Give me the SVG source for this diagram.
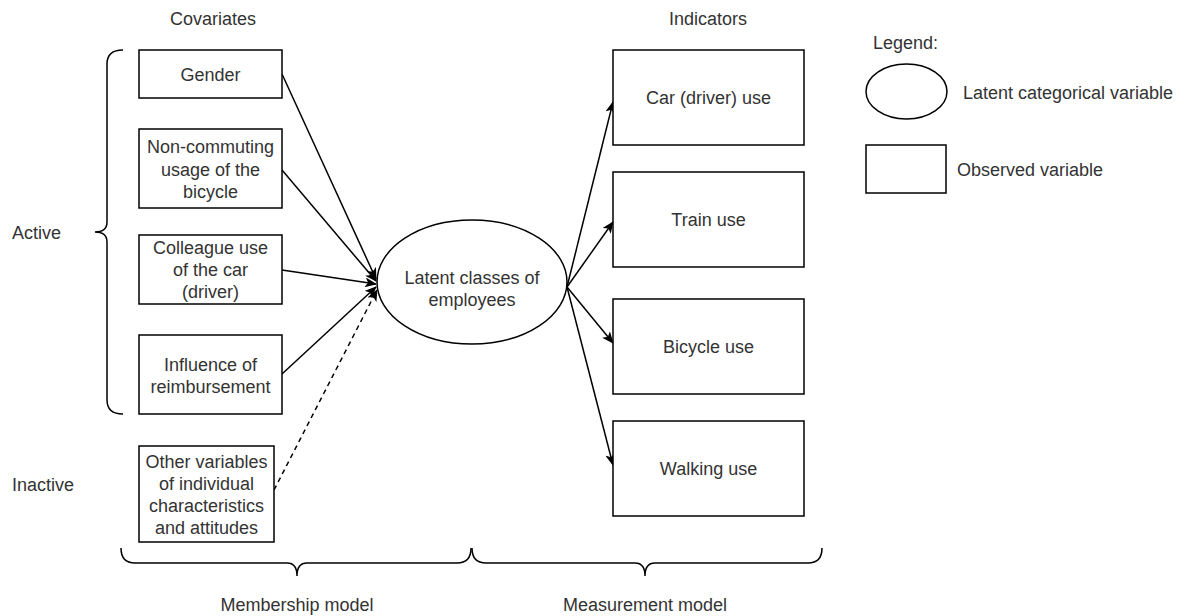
<svg xmlns="http://www.w3.org/2000/svg" width="1189" height="616" viewBox="0 0 1189 616">
<defs>
<style>
.box{fill:#fff;stroke:#000;stroke-width:1.5}
.t{font-family:"Liberation Sans",Arial,sans-serif;font-size:18px;fill:#333}
.m{text-anchor:middle}
.ln{fill:none;stroke:#000;stroke-width:1.5}
.br{fill:none;stroke:#000;stroke-width:1.5}
</style>
<marker id="ah" viewBox="0 0 10 10" refX="9" refY="5" markerWidth="7" markerHeight="7" markerUnits="userSpaceOnUse" orient="auto">
<path d="M0,0 L10,5 L0,10 L3,5 Z" fill="#000"/>
</marker>
<marker id="ah2" viewBox="0 0 12 10" refX="11" refY="5" markerWidth="12" markerHeight="10" markerUnits="userSpaceOnUse" orient="auto">
<path d="M0,0 L12,5 L0,10 L3,5 Z" fill="#000"/>
</marker>
</defs>
<rect width="1189" height="616" fill="#fff"/>

<g id="labels">
<text class="t m" x="213" y="25">Covariates</text>
<text class="t m" x="708" y="25">Indicators</text>
<text class="t" x="12" y="239">Active</text>
<text class="t" x="12" y="491">Inactive</text>
<text class="t m" x="297" y="611">Membership model</text>
<text class="t m" x="645" y="611">Measurement model</text>
</g>

<g id="braces">
<path class="br" d="M123,50 Q107,50 107,64 L107,222 Q107,232 95,232 Q107,232 107,242 L107,400 Q107,414 123,414"/>
<path class="br" d="M121,548 Q121,563 135,563 L287,563 Q297,563 297,576 Q297,563 307,563 L457,563 Q471,563 471,548"/>
<path class="br" d="M472,548 Q472,563 486,563 L635,563 Q645,563 645,576 Q645,563 655,563 L808,563 Q822,563 822,548"/>
</g>

<g id="connectors">
<line class="ln" x1="282" y1="74" x2="376" y2="279" marker-end="url(#ah2)"/>
<line class="ln" x1="282" y1="170" x2="376" y2="281" marker-end="url(#ah2)"/>
<line class="ln" x1="282" y1="270" x2="376" y2="284" marker-end="url(#ah2)"/>
<line class="ln" x1="282" y1="374" x2="376" y2="287" marker-end="url(#ah2)"/>
<line class="ln" x1="274" y1="490" x2="377" y2="290" stroke-dasharray="5,4" marker-end="url(#ah2)"/>
<line class="ln" x1="567" y1="287" x2="613" y2="102" marker-end="url(#ah2)"/>
<line class="ln" x1="567" y1="287" x2="613" y2="222" marker-end="url(#ah2)"/>
<line class="ln" x1="567" y1="287" x2="613" y2="343" marker-end="url(#ah2)"/>
<line class="ln" x1="567" y1="287" x2="613" y2="465" marker-end="url(#ah2)"/>
</g>

<g id="gender">
<rect class="box" x="139" y="50" width="143" height="48"/>
<text class="t m" x="210.5" y="81">Gender</text>
</g>
<g id="noncommuting">
<rect class="box" x="139" y="129" width="143" height="79"/>
<text class="t m" x="210.5" y="153">Non-commuting</text>
<text class="t m" x="210.5" y="176">usage of the</text>
<text class="t m" x="210.5" y="198">bicycle</text>
</g>
<g id="colleague">
<rect class="box" x="139" y="235" width="143" height="69"/>
<text class="t m" x="210.5" y="254">Colleague use</text>
<text class="t m" x="210.5" y="276">of the car</text>
<text class="t m" x="210.5" y="298">(driver)</text>
</g>
<g id="influence">
<rect class="box" x="139" y="335" width="143" height="79"/>
<text class="t m" x="210.5" y="371">Influence of</text>
<text class="t m" x="210.5" y="393">reimbursement</text>
</g>
<g id="other">
<rect class="box" x="139" y="446" width="135" height="96"/>
<text class="t m" x="206.5" y="468">Other variables</text>
<text class="t m" x="206.5" y="490">of individual</text>
<text class="t m" x="206.5" y="512">characteristics</text>
<text class="t m" x="206.5" y="534">and attitudes</text>
</g>

<g id="latent">
<ellipse class="box" cx="472" cy="282" rx="95" ry="62"/>
<text class="t m" x="472" y="284">Latent classes of</text>
<text class="t m" x="472" y="306">employees</text>
</g>

<g id="car">
<rect class="box" x="613" y="50" width="191" height="95"/>
<text class="t m" x="708.5" y="104">Car (driver) use</text>
</g>
<g id="train">
<rect class="box" x="613" y="172" width="191" height="95"/>
<text class="t m" x="708.5" y="226">Train use</text>
</g>
<g id="bicycle">
<rect class="box" x="613" y="299" width="191" height="95"/>
<text class="t m" x="708.5" y="353">Bicycle use</text>
</g>
<g id="walking">
<rect class="box" x="613" y="421" width="191" height="95"/>
<text class="t m" x="708.5" y="475">Walking use</text>
</g>

<g id="legend">
<text class="t" x="873" y="49">Legend:</text>
<ellipse class="box" cx="906.5" cy="91.5" rx="40.5" ry="27.5"/>
<text class="t" x="963" y="99">Latent categorical variable</text>
<rect class="box" x="866" y="145" width="80" height="48"/>
<text class="t" x="957" y="176">Observed variable</text>
</g>
</svg>
